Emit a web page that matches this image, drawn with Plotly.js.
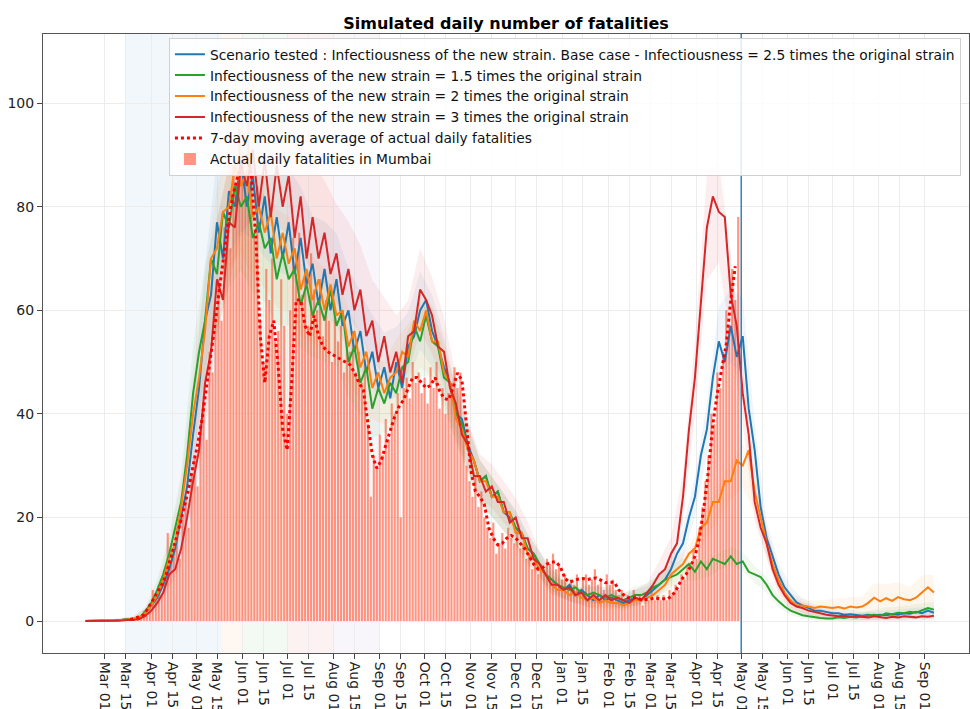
<!DOCTYPE html>
<html>
<head>
<meta charset="utf-8">
<script src="https://cdn.plot.ly/plotly-3.0.1.min.js"></script>
<style>html,body{margin:0;padding:0;background:#fff;}#chart{width:970px;height:709px;}</style>
</head>
<body>
<div id="chart"></div>
<script>
// ---------- DATA ----------
// Simulated series: one value every 4 days starting 2020-02-17
const simStart = '2020-02-17';
const simStepDays = 4;
const baseCase = [
0,0,0,0,0,0.1,0.2,0.4,0.3,0.6,
1.5,3,4.5,7,10,14,20,26,36,45,
58,63,77,70,83,80,89,80,86,75,
82,71,78,70,77,67,74,65,69,61,
68,60,66,57,60,52,56,48,52,45,
49,43,50,45,53,55,60,62,56,53,
49,46,40,39,34,31,27,28,24,25,
21,20,18,17,14,13,11,9,8,7,
6,7,5,6,5,4,5,4,4.5,4,
3.5,4,4.5,4,5,6,7,8,10,13,
15,20,24,32,37,47,54,50,57,51,
55,41,33,22,16,12.5,9,6.5,5,3.6,
3,2.5,2,2,1.8,1.5,1.5,1.2,1.3,1.2,
1.0,1.2,1.0,1.2,1.1,1.3,1.2,1.5,1.4,1.8,
1.5,2.0,1.6];
const strain15 = [
0,0,0,0,0,0.1,0.2,0.3,0.4,0.6,
1.8,3.5,6,9,13,18,23,32,44,52,
58,70,67,79,76,84,80,82,74,77,
72,74,66,71,66,68,61,65,59,62,
58,64,57,60,50,53,46,49,41,45,
42,46,44,49,50,57,54,59,54,53,
47,46,40,38,33,31,27,28,24,25,
21,21,18,17,14,13,11,9,8,7,
6.5,6,6.5,5.5,5,5.5,5,4.5,5,4.5,
4,4.5,5,5,5.5,6.5,7,8,8.5,9,
10,11,9.5,11.5,10,12,11.5,11,12.5,11,
11.5,9.5,9,8.5,7,5,3.8,2.8,2,1.5,
1.1,0.9,0.7,0.6,0.5,0.5,0.7,0.6,0.8,0.7,
0.9,1.0,1.2,1.0,1.5,1.3,1.6,1.5,1.8,1.6,
2.0,2.5,2.2];
const strain2 = [
0,0,0,0,0,0.1,0.2,0.3,0.4,0.7,
1.5,3,5,8,12,15,22,30,40,47,
56,70,72,79,80,88,84,87,78,80,
75,79,70,75,69,72,64,68,62,66,
60,65,59,60,53,56,49,52,45,48,
44,47,48,52,51,58,56,60,54,54,
48,46,39,37,33,31,27,27,24,24,
21,21,17,17,13,12,10,9,7,6,
6,5,5.5,4.5,4,4.5,3.5,4,3.5,3.5,
3,3.5,4,4,4.5,5,6,7,9,10,
11,13,14,18,19,23,23,27,27,31,
30,33,25,20,15,11,8,5.5,4,3,
3,2.8,2.5,2.8,2.6,2.5,2.7,2.4,2.8,2.6,
2.8,3.5,4.5,3.8,4.4,3.9,4.6,4.2,4.0,4.5,
5.5,6.5,5.5];
const strain3 = [
0,0,0,0,0,0,0.1,0.2,0.2,0.4,
1,2,3.5,5.5,9,10,14,20,27,33,
46,52,66,62,77,76,88,84,91,80,
89,78,88,80,86,74,82,70,78,70,
75,67,71,63,68,60,64,55,58,50,
55,48,52,46,55,56,64,62,59,53,
52,45,42,36,34,28,28,25,26,23,
23,19,20,16,16,12,11,9,7,7,
6,6.5,5,5.5,4,5,4,5,4,4.5,
4,3.5,4.5,4,5.5,7,9,10,13,15,
24,37,47,61,76,82,79,78,63,57,
44,36,23,18,15,10,7,5,3.5,2.8,
2.5,2,1.8,1.5,1.2,1.0,0.9,1.0,0.8,0.9,
0.8,0.7,0.9,0.8,0.6,0.8,0.7,0.9,0.8,0.7,
0.9,0.8,1.0];

// Relative half-width of the simulation uncertainty bands, one value every 8 days from 2020-02-17
const bandStepDays = 8;
const bandRelSpread = [
0.5,0.5,0.5,0.5,0.4,0.35,0.3,0.25,0.22,0.2,
0.18,0.16,0.15,0.15,0.14,0.14,0.13,0.13,0.13,0.13,
0.13,0.13,0.13,0.13,0.13,0.13,0.13,0.12,0.12,0.12,
0.12,0.12,0.13,0.14,0.15,0.16,0.17,0.18,0.2,0.22,
0.24,0.25,0.26,0.26,0.27,0.28,0.28,0.27,0.25,0.22,
0.18,0.15,0.13,0.12,0.12,0.13,0.15,0.18,0.22,0.28,
0.35,0.45,0.5,0.55,0.55,0.55,0.55,0.55,0.55,0.55,
0.55,0.55];

// 7-day moving average: one value every 3 days starting 2020-03-18
const maStart = '2020-03-18';
const maStepDays = 3;
const movingAvg = [
0.3,0.5,0.8,1.2,2.5,4,5.5,7,9,12,
15,18.5,22,25.5,30,34,39,45,51,58,
65,72,78,82.6,86,88,90,86,74,55,
46,55,58,49,37,33,46,62,62,57,
55,59,55,53,52,51.5,51,50.5,50,49.5,
48,46,44.6,38,32,29.5,31,34,37,39.5,
41.5,42.7,45,47,47,46,45,45.5,47,44.5,
43,42.7,45,47.9,46.5,38,29,25,24,22.5,
18,16,14.7,15,16,16.5,16,15,14,12.5,
11,10,10.3,11,11.4,11.4,10.4,8.2,7.5,7.8,
8.1,8.2,8.0,8.2,8.3,7.9,7.4,7.5,7.5,6,
5.1,4.5,4.5,4.5,4.1,4.1,4.2,4.5,4.3,4.3,
4.3,5,6.3,8,9,10.5,12.5,16,22,29,
38,44,49,53.5,62,68.5];

// Actual daily fatalities: one bar every 2 days starting 2020-03-17
const barStart = '2020-03-17';
const barStepDays = 2;
const actualDeaths = [
0,0.5,0,1,1,2,1,3,6,4,
7,5,10,17,11,14,18,12,20,24,
18,28,32,26,38,42,35,52,48,60,
66,58,76,80,72,88,84,95,90,86,
98,88,74,84,58,50,68,62,70,54,
56,66,57,40,60,74,67,75,63,68,
57,71,64,60,66,55,62,58,50,60,
54,57,48,55,52,56,48,52,46,50,
38,24,32,30,36,32,39,35,42,40,
44,20,45,47,43,50,46,48,44,47,
42,49,45,50,41,45,40,44,46,49,
45,48,38,30,27,24,28,22,25,20,
18,16,19,13,15,17,14,18,16,15,
18,14,15,12,13,10,12,9,11,10,
12,11,13,10,11,8,9,6,8,7,
9,6,8,9,7,8,10,7,8,6,
9,7,8,6,5,6,4,5,4,6,
4,5,3,5,4,6,4,5,4,5,
4,6,5,7,6,9,8,11,10,14,
12,18,22,27,32,40,38,48,45,52,
60,57,68,62,78];

const seriesNames = [
  'Scenario tested : Infectiousness of the new strain. Base case - Infectiousness = 2.5 times the original strain',
  'Infectiousness of the new strain = 1.5 times the original strain',
  'Infectiousness of the new strain = 2 times the original strain',
  'Infectiousness of the new strain = 3 times the original strain',
  '7-day moving average of actual daily fatalities',
  'Actual daily fatalities in Mumbai'
];

const tickVals = ['2020-03-01','2020-03-15','2020-04-01','2020-04-15','2020-05-01','2020-05-15','2020-06-01','2020-06-15',
  '2020-07-01','2020-07-15','2020-08-01','2020-08-15','2020-09-01','2020-09-15','2020-10-01','2020-10-15',
  '2020-11-01','2020-11-15','2020-12-01','2020-12-15','2021-01-01','2021-01-15','2021-02-01','2021-02-15',
  '2021-03-01','2021-03-15','2021-04-01','2021-04-15','2021-05-01','2021-05-15','2021-06-01','2021-06-15',
  '2021-07-01','2021-07-15','2021-08-01','2021-08-15','2021-09-01'];
const tickLabels = ['Mar 01','Mar 15','Apr 01','Apr 15','May 01','May 15','Jun 01','Jun 15',
  'Jul 01','Jul 15','Aug 01','Aug 15','Sep 01','Sep 15','Oct 01','Oct 15',
  'Nov 01','Nov 15','Dec 01','Dec 15','Jan 01','Jan 15','Feb 01','Feb 15',
  'Mar 01','Mar 15','Apr 01','Apr 15','May 01','May 15','Jun 01','Jun 15',
  'Jul 01','Jul 15','Aug 01','Aug 15','Sep 01'];

// Shaded periods
const phaseStarts = ['2020-03-15','2020-05-18','2020-06-01','2020-07-01','2020-08-01'];
const phaseEnds   = ['2020-05-18','2020-06-01','2020-07-01','2020-08-01','2020-09-01'];
const phaseColors = ['rgba(31,119,180,0.06)','rgba(255,127,14,0.06)','rgba(44,160,44,0.06)','rgba(214,39,40,0.06)','rgba(148,103,189,0.06)'];
const scenarioDate = '2021-05-01';

// ---------- BUILD ----------
function dayList(start, step, n){
  const t0 = Date.parse(start + 'T00:00:00Z');
  const out = [];
  for (let i = 0; i < n; i++) out.push(new Date(t0 + i*step*864e5).toISOString().slice(0,10));
  return out;
}
const simX = dayList(simStart, simStepDays, baseCase.length);
const bandX = dayList(simStart, bandStepDays, bandRelSpread.length);
const maX = dayList(maStart, maStepDays, movingAvg.length);
const barX = dayList(barStart, barStepDays, actualDeaths.length);

const lineColors = ['#1f77b4','#2ca02c','#ff7f0e','#d62728'];
const bandColors = ['rgba(31,119,180,0.07)','rgba(44,160,44,0.07)','rgba(255,127,14,0.07)','rgba(214,39,40,0.08)'];
const simSeries = [baseCase, strain15, strain2, strain3];
const ratio = bandStepDays / simStepDays;

const traces = [];
simSeries.forEach((ys, k) => {
  const up = [], lo = [];
  bandRelSpread.forEach((r, j) => {
    const v = ys[j*ratio];
    up.push(v * (1 + r) + 0.3);
    lo.push(Math.max(0, v * (1 - r) - 0.3));
  });
  traces.push({type:'scatter', mode:'lines', x: bandX, y: up, line:{width:0, color:lineColors[k]},
               showlegend:false, hoverinfo:'skip'});
  traces.push({type:'scatter', mode:'lines', x: bandX, y: lo, line:{width:0, color:lineColors[k]},
               fill:'tonexty', fillcolor: bandColors[k], showlegend:false, hoverinfo:'skip'});
});
simSeries.forEach((ys, k) => {
  traces.push({type:'scatter', mode:'lines', x: simX, y: ys, name: seriesNames[k],
    line:{color: lineColors[k], width: 2}});
});
traces.push({type:'scatter', mode:'lines', x: maX, y: movingAvg, name: seriesNames[4],
  line:{color:'#ff0000', width:3, dash:'dot'}});
traces.push({type:'bar', x: barX, y: actualDeaths, name: seriesNames[5],
  marker:{color:'rgba(255,99,71,0.68)', line:{width:0}}});

const shapes = phaseStarts.map((s, k) => ({
  type:'rect', xref:'x', yref:'paper', x0:s, x1:phaseEnds[k], y0:0, y1:1,
  fillcolor: phaseColors[k], line:{width:0}, layer:'below'
}));
shapes.push({type:'line', xref:'x', yref:'paper', x0:scenarioDate, x1:scenarioDate, y0:0, y1:1,
  line:{color:'rgba(31,119,180,0.9)', width:1.5}, layer:'above'});

const layout = {
  width:970, height:709,
  margin:{l:43, r:1, t:34, b:56, autoexpand:false},
  paper_bgcolor:'#ffffff', plot_bgcolor:'#ffffff',
  font:{family:'DejaVu Sans', size:14, color:'#222'},
  title:{text:'<b>Simulated daily number of fatalities</b>', font:{size:16, color:'#000', family:'DejaVu Sans'},
         xref:'paper', x:0.5, xanchor:'center', yref:'container', y:0.967, yanchor:'middle'},
  showlegend:true,
  legend:{x:0.136, y:0.994, xanchor:'left', yanchor:'top', traceorder:'normal', bgcolor:'rgba(255,255,255,0.85)',
          bordercolor:'#d0d0d0', borderwidth:1, font:{size:13.8, color:'#111'}},
  bargap:0.28,
  xaxis:{type:'date', range:['2020-01-19 12:00','2021-09-30 12:00'], tickvals:tickVals, ticktext:tickLabels,
         tickangle:90, ticks:'outside', ticklen:5, tickcolor:'#444', showline:true, linecolor:'#555', linewidth:1,
         mirror:true, showgrid:true, gridcolor:'#ececec', gridwidth:1, zeroline:false, automargin:false,
         tickfont:{size:14, color:'#222'}},
  yaxis:{range:[-6.18, 113.36], tickvals:[0,20,40,60,80,100], ticks:'outside', ticklen:5, tickcolor:'#444',
         showline:true, linecolor:'#555', linewidth:1, mirror:true, showgrid:true, gridcolor:'#ececec',
         zeroline:false, automargin:false, tickfont:{size:14, color:'#222'}},
  shapes: shapes
};

Plotly.newPlot('chart', traces, layout, {staticPlot:true, displayModeBar:false});
</script>
</body>
</html>
